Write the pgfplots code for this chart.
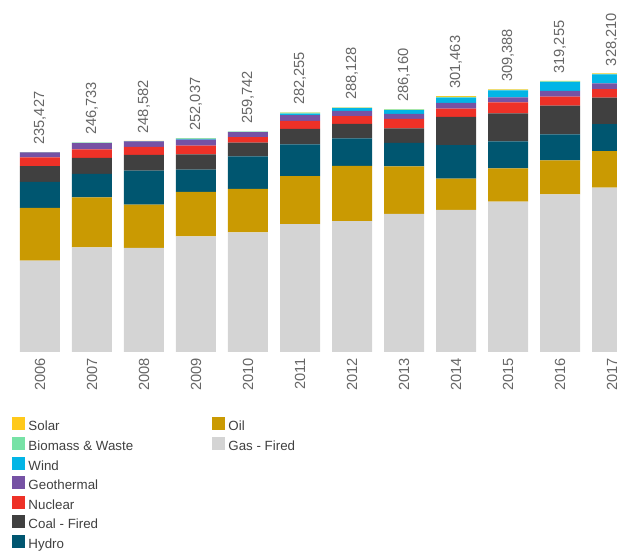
\documentclass[border=0pt]{standalone}
\usepackage{pgfplots}
\usepackage{pgfplotstable}
\pgfplotsset{compat=1.18}
\usepackage{fontspec}
\setmainfont{Liberation Sans}
\definecolor{cSolar}{HTML}{FFC91B}
\definecolor{cBio}{HTML}{77E2A6}
\definecolor{cWind}{HTML}{02B5E6}
\definecolor{cGeo}{HTML}{7652A4}
\definecolor{cNuc}{HTML}{EE3127}
\definecolor{cCoal}{HTML}{404040}
\definecolor{cHydro}{HTML}{005670}
\definecolor{cOil}{HTML}{CA9A02}
\definecolor{cGas}{HTML}{D4D4D4}
\definecolor{labgray}{HTML}{666666}
\definecolor{leggray}{HTML}{404040}
\pgfplotstableread{
x gas oil hydro coal nuc geo wind bio solar lab
0 107.5 62.3 30.7 18.4 10.3 5.8 0.1 0.2 0.1 235,427
1 123.2 58.8 27.8 18.8 10.2 7.3 0.3 0.2 0.1 246,733
2 122.6 51.1 40.0 18.4 9.4 6.6 0.3 0.1 0.1 248,582
3 136.1 52.5 26.2 18.0 10.2 7.0 1.0 0.7 0.3 252,037
4 140.8 51.2 38.5 16.2 6.3 5.9 0.5 0.2 0.1 259,742
5 150.7 56.5 37.3 18.4 9.4 6.7 1.7 1.1 0.4 282,255
6 154.2 65.1 32.3 17.2 9.1 6.2 3.0 0.7 0.3 288,128
7 162.7 55.8 27.9 16.9 11.4 5.9 4.4 0.8 0.3 286,160
8 167.5 36.7 39.5 33.2 9.8 6.6 6.3 1.0 0.9 301,463
9 177.0 39.3 31.8 33.0 13.0 5.9 8.2 0.6 0.6 309,388
10 185.6 40.0 30.6 34.1 10.6 6.6 10.6 0.6 0.6 319,255
11 193.5 43.2 31.8 31.0 10.2 6.7 10.6 0.6 0.6 328,210
}\data
\pgfplotsset{sq/.style={legend image code/.code={\fill[#1] (0pt,-1.6pt) rectangle (9pt,7.4pt);}},
  blank/.style={legend image code/.code={}}}
\begin{document}
\begin{tikzpicture}
\useasboundingbox (0,-150pt) rectangle (462.75pt,264pt);
\begin{axis}[
  at={(0,0)}, anchor=south west,
  scale only axis, width=462.75pt, height=264pt,
  xmin=-0.769, xmax=11.096, ymin=0, ymax=414.6,
  enlargelimits=false,
  ybar stacked, bar width=30pt,
  axis line style={draw=none}, tick style={draw=none}, major tick length=0pt,
  ytick=\empty,
  xtick=data,
  xticklabels={2006,2007,2008,2009,2010,2011,2012,2013,2014,2015,2016,2017},
  xticklabel style={rotate=90, anchor=east, inner sep=0pt, font=\fontsize{11}{13}\selectfont, text=labgray},
  xticklabel shift=4.5pt,
  legend cell align=left,
  legend columns=2,
  legend style={at={(0.0194,-0.186)}, anchor=north west, draw=none, fill=none,
    inner sep=0pt, outer sep=0pt, font=\fontsize{10}{12}\selectfont, text=leggray,
    nodes={inner sep=0pt, text height=7.5pt, text depth=2.5pt},
    row sep=2.1pt,
    /tikz/every odd column/.append style={column sep=3pt},
    /tikz/every even column/.append style={column sep=59pt}},
]
\addplot[fill=cGas, draw=none, forget plot] table[x=x,y=gas]{\data};
\addplot[fill=cOil, draw=none, forget plot] table[x=x,y=oil]{\data};
\addplot[fill=cHydro, draw=none, forget plot] table[x=x,y=hydro]{\data};
\addplot[fill=cCoal, draw=none, forget plot] table[x=x,y=coal]{\data};
\addplot[fill=cNuc, draw=none, forget plot] table[x=x,y=nuc]{\data};
\addplot[fill=cGeo, draw=none, forget plot] table[x=x,y=geo]{\data};
\addplot[fill=cWind, draw=none, forget plot] table[x=x,y=wind]{\data};
\addplot[fill=cBio, draw=none, forget plot] table[x=x,y=bio]{\data};
\addplot[fill=cSolar, draw=none, forget plot, nodes near coords, point meta=explicit symbolic,
  nodes near coords style={rotate=90, anchor=west, inner xsep=5.5pt, inner ysep=0pt, font=\fontsize{11}{13}\selectfont, text=labgray}]
  table[x=x,y=solar,meta=lab]{\data};
\addlegendimage{sq=cSolar}\addlegendentry{Solar}
\addlegendimage{sq=cOil}\addlegendentry{Oil}
\addlegendimage{sq=cBio}\addlegendentry{Biomass \& Waste}
\addlegendimage{sq=cGas}\addlegendentry{Gas - Fired}
\addlegendimage{sq=cWind}\addlegendentry{Wind}
\addlegendimage{blank}\addlegendentry{}
\addlegendimage{sq=cGeo}\addlegendentry{Geothermal}
\addlegendimage{blank}\addlegendentry{}
\addlegendimage{sq=cNuc}\addlegendentry{Nuclear}
\addlegendimage{blank}\addlegendentry{}
\addlegendimage{sq=cCoal}\addlegendentry{Coal - Fired}
\addlegendimage{blank}\addlegendentry{}
\addlegendimage{sq=cHydro}\addlegendentry{Hydro}
\end{axis}
\end{tikzpicture}
\end{document}
